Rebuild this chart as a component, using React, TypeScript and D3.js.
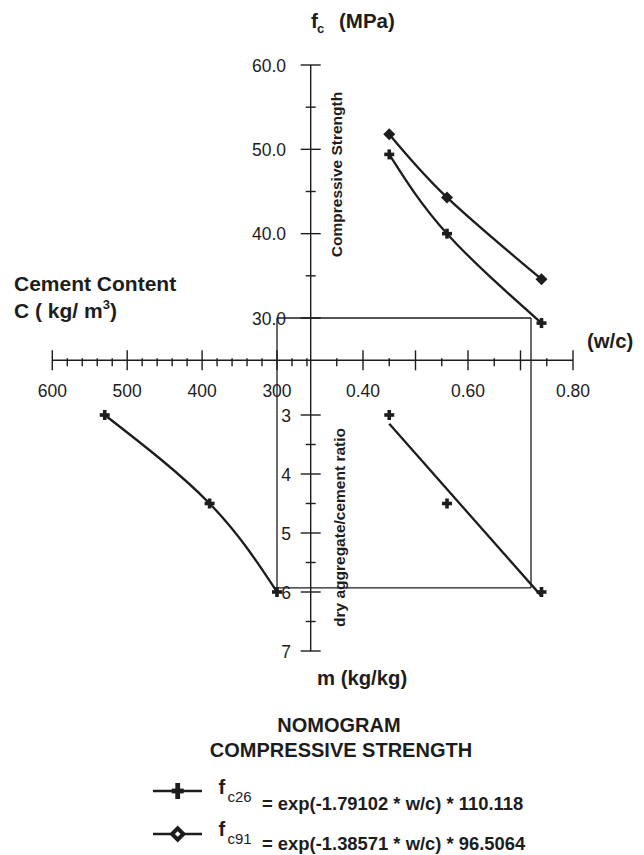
import React from "react";
import * as d3 from "d3";

// ---- data ----
const wcPoints = [0.45, 0.56, 0.74];
const fc26Values = [49.4, 40.0, 29.4];
const fc91Values = [51.8, 44.3, 34.6];
const mPoints = [3, 4.5, 6];
const cementPoints = [530, 390, 300];
// straight trend line m vs w/c (end points)
const mFitWc = [0.45, 0.74];
const mFitM = [3.15, 6.07];
// guide rectangle (worked example)
const guideC = 300;
const guideWc = 0.72;
const guideF = 30;
const guideM = 5.93;

// ---- ticks ----
const fMajorTicks = [30, 40, 50, 60];
const fMinorTicks = [35, 45, 55];
const fTickLabels = ["30.0", "40.0", "50.0", "60.0"];
const mMajorTicks = [3, 4, 5, 6, 7];
const mMinorTicks = [3.5, 4.5, 5.5, 6.5];
const mTickLabels = ["3", "4", "5", "6", "7"];
const wcMajorTicks = [0.4, 0.5, 0.6, 0.7, 0.8];
const wcMinorTicks = [0.35, 0.45, 0.55, 0.65, 0.75];
const wcLabelTicks = [0.4, 0.6, 0.8];
const wcTickLabels = ["0.40", "0.60", "0.80"];
const cMajorTicks = [600, 500, 400, 300];
const cMinorTicks = [580, 560, 540, 520, 480, 460, 440, 420, 380, 360, 340, 320, 280, 260];
const cTickLabels = ["600", "500", "400", "300"];

const FONT = "'Liberation Sans', Arial, Helvetica, sans-serif";
const INK = "#1d1d1d";

export default function App() {
  const axisX = 310.7;
  const axisY = 360.3;
  const yF = d3.scaleLinear().domain([30, 60]).range([318, 65]);
  const yM = d3.scaleLinear().domain([3, 7]).range([415, 651]);
  const xW = d3.scaleLinear().domain([0.3, 0.8]).range([axisX - 0.2, 573]);
  const xC = d3.scaleLinear().domain([300, 600]).range([277, 52.3]);

  const curve = d3.line<[number, number]>().curve(d3.curveNatural);
  const straight = d3.line<[number, number]>();

  const p26: [number, number][] = wcPoints.map((w, i) => [xW(w), yF(fc26Values[i])]);
  const p91: [number, number][] = wcPoints.map((w, i) => [xW(w), yF(fc91Values[i])]);
  const pCm: [number, number][] = cementPoints.map((c, i) => [xC(c), yM(mPoints[i])]);
  const pWm: [number, number][] = wcPoints.map((w, i) => [xW(w), yM(mPoints[i])]);
  const pFit: [number, number][] = mFitWc.map((w, i) => [xW(w), yM(mFitM[i])]);

  const plus = (x: number, y: number, k: string, a = 5, sw = 3.6, ay = a) => (
    <g key={k}>
      <line x1={x - a} x2={x + a} y1={y} y2={y} stroke={INK} strokeWidth={sw} />
      <line x1={x} x2={x} y1={y - ay} y2={y + ay} stroke={INK} strokeWidth={sw} />
    </g>
  );
  const diamond = (x: number, y: number, k: string, r = 6) => (
    <path key={k} d={`M${x},${y - r}L${x + r},${y}L${x},${y + r}L${x - r},${y}Z`} fill={INK} />
  );

  const yTop = yF(60);
  const yBot = yM(7);

  return (
    <svg
      width={644}
      height={855}
      style={{ position: "absolute", left: 0, top: 0, background: "#fff" }}
      fontFamily={FONT}
    >
      <rect x={0} y={0} width={644} height={855} fill="#fff" />

      {/* guide rectangle */}
      <g stroke={INK} strokeWidth={1.3} fill="none">
        <line x1={xC(guideC)} x2={xW(guideWc)} y1={yF(guideF)} y2={yF(guideF)} />
        <line x1={xC(guideC)} x2={xW(guideWc)} y1={yM(guideM)} y2={yM(guideM)} />
        <line x1={xC(guideC)} x2={xC(guideC)} y1={yF(guideF)} y2={yM(guideM)} />
        <line x1={xW(guideWc)} x2={xW(guideWc)} y1={yF(guideF)} y2={yM(guideM)} />
      </g>

      {/* axes */}
      <g stroke={INK} strokeWidth={1.4}>
        <line x1={axisX} x2={axisX} y1={yTop} y2={yBot} />
        <line x1={xC(600)} x2={xW(0.8)} y1={axisY} y2={axisY} />
        {fMajorTicks.map((t) => (
          <line key={"fM" + t} x1={axisX - 10} x2={axisX + 10} y1={yF(t)} y2={yF(t)} />
        ))}
        {fMinorTicks.map((t) => (
          <line key={"fm" + t} x1={axisX - 5} x2={axisX + 5} y1={yF(t)} y2={yF(t)} />
        ))}
        {mMajorTicks.map((t) => (
          <line key={"mM" + t} x1={axisX - 10} x2={axisX + 10} y1={yM(t)} y2={yM(t)} />
        ))}
        {mMinorTicks.map((t) => (
          <line key={"mm" + t} x1={axisX - 5} x2={axisX + 5} y1={yM(t)} y2={yM(t)} />
        ))}
        {wcMajorTicks.map((t) => (
          <line key={"wM" + t} x1={xW(t)} x2={xW(t)} y1={axisY - 10} y2={axisY + 10} />
        ))}
        {wcMinorTicks.map((t) => (
          <line key={"wm" + t} x1={xW(t)} x2={xW(t)} y1={axisY - 2} y2={axisY + 6} />
        ))}
        {cMajorTicks.map((t) => (
          <line key={"cM" + t} x1={xC(t)} x2={xC(t)} y1={axisY - 10} y2={axisY + 10} />
        ))}
        {cMinorTicks.map((t) => (
          <line key={"cm" + t} x1={xC(t)} x2={xC(t)} y1={axisY - 2} y2={axisY + 6} />
        ))}
      </g>

      {/* tick labels */}
      <g fill={INK} fontSize={17.5}>
        {fMajorTicks.map((t, i) => (
          <text key={"fl" + t} x={286} y={yF(t) + 6.5} textAnchor="end">
            {fTickLabels[i]}
          </text>
        ))}
        {mMajorTicks.map((t, i) => (
          <text key={"ml" + t} x={291} y={yM(t) + 6.5} textAnchor="end">
            {mTickLabels[i]}
          </text>
        ))}
        {wcLabelTicks.map((t, i) => (
          <text key={"wl" + t} x={xW(t)} y={397} textAnchor="middle">
            {wcTickLabels[i]}
          </text>
        ))}
        {cMajorTicks.map((t, i) => (
          <text key={"cl" + t} x={xC(t)} y={397} textAnchor="middle">
            {cTickLabels[i]}
          </text>
        ))}
      </g>

      {/* curves */}
      <g stroke={INK} strokeWidth={2.3} fill="none">
        <path d={curve(p91) || ""} />
        <path d={curve(p26) || ""} />
        <path d={curve(pCm) || ""} />
        <path d={straight(pFit) || ""} />
      </g>

      {/* markers */}
      {p91.map(([x, y], i) => diamond(x, y, "d" + i))}
      {p26.map(([x, y], i) => plus(x, y, "p26" + i))}
      {pCm.map(([x, y], i) => plus(x, y, "pc" + i))}
      {pWm.map(([x, y], i) => plus(x, y, "pw" + i))}

      {/* axis titles */}
      <g fill={INK} fontWeight="bold">
        <text x={311} y={28} fontSize={20.5}>f</text>
        <text x={317} y={33} fontSize={13}>c</text>
        <text x={339} y={28} fontSize={20.5}>(MPa)</text>

        <text x={14} y={291} fontSize={21}>Cement Content</text>
        <text x={14} y={318} fontSize={21}>
          C ( kg/ m<tspan fontSize={13} dy={-9}>3</tspan>
          <tspan dy={9}>)</tspan>
        </text>

        <text x={587} y={348} fontSize={20.3}>(w/c)</text>
        <text x={317} y={685} fontSize={20.3}>m (kg/kg)</text>

        <text transform="translate(342,174.5) rotate(-90)" fontSize={15.5} textAnchor="middle">
          Compressive Strength
        </text>
        <text transform="translate(345,527.5) rotate(-90)" fontSize={15.5} textAnchor="middle">
          dry aggregate/cement ratio
        </text>

        <text x={339} y={732} fontSize={20} textAnchor="middle">NOMOGRAM</text>
        <text x={341} y={757} fontSize={20} textAnchor="middle">COMPRESSIVE STRENGTH</text>
      </g>

      {/* legend */}
      <g>
        <line x1={153} x2={202} y1={791} y2={791} stroke={INK} strokeWidth={2.6} />
        {plus(177.7, 791, "lg1", 6, 4.8, 8)}
        <text x={218.5} y={794} fontSize={20} fontWeight="bold" fill={INK}>f</text>
        <text x={227.5} y={802} fontSize={15} fill={INK}>c26</text>
        <text x={262} y={810} fontSize={18.4} fontWeight="bold" fill={INK}>
          = exp(-1.79102 * w/c) * 110.118
        </text>

        <line x1={153} x2={202} y1={834} y2={834} stroke={INK} strokeWidth={2.6} />
        {diamond(177.7, 834, "lg2", 8.5)}
        <path d={`M177.7,${834 - 2.8}L${177.7 + 2.8},834L177.7,${834 + 2.8}L${177.7 - 2.8},834Z`} fill="#fff" />
        <text x={218.5} y={836} fontSize={20} fontWeight="bold" fill={INK}>f</text>
        <text x={227.5} y={844} fontSize={15} fill={INK}>c91</text>
        <text x={262} y={850} fontSize={18.4} fontWeight="bold" fill={INK}>
          = exp(-1.38571 * w/c) * 96.5064
        </text>
      </g>
    </svg>
  );
}
